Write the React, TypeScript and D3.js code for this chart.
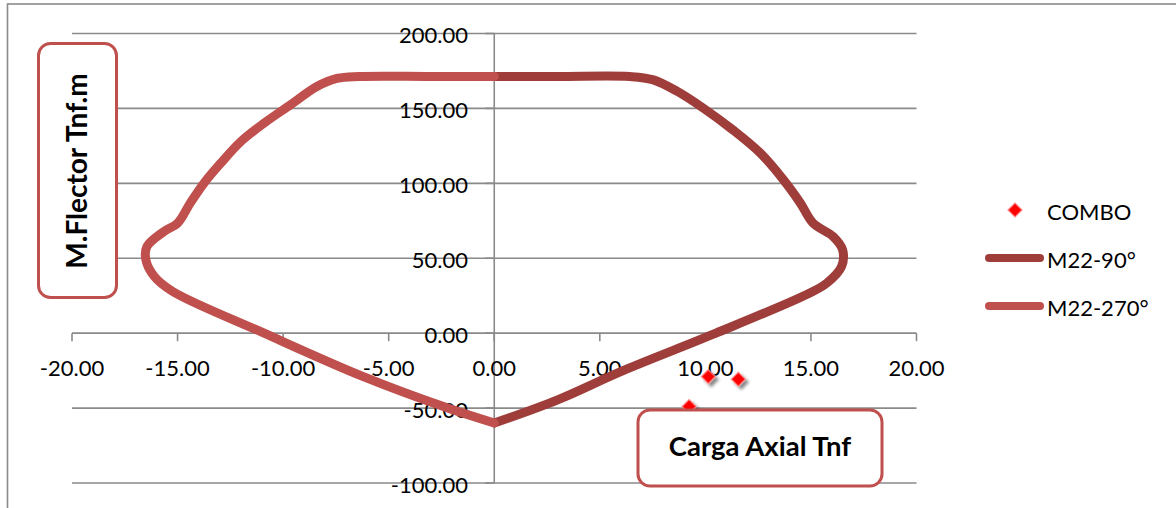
import React from 'react';
import * as d3 from 'd3';

// interaction diagram, values
const m22_90_x = [0, 3, 6.4, 7.5, 8.65, 9.9, 11.3, 12.6, 13.7, 14.5, 15.1, 16.05, 16.5, 16.45, 15.75, 14.9, 10.5, 6.1, 3.0, 0];
const m22_90_y = [171.3, 171.3, 171.3, 169.2, 161.5, 150.2, 135.7, 120.2, 102.3, 86.8, 73.4, 64.5, 55.6, 44.5, 33.4, 26.5, 0, -25, -44.5, -60];

const m22_270_x = [0, -3, -6.4, -7.45, -8.4, -9.65, -10.9, -12.0, -12.95, -13.75, -14.4, -15.0, -15.65, -16.45, -16.5, -16.1, -15.25, -10.9, -6.2, -2.2, 0];
const m22_270_y = [171.3, 171.3, 171.3, 170.0, 164.6, 152.4, 140.2, 127.9, 113.5, 100.1, 86.8, 73.4, 67.8, 57.8, 48.9, 37.8, 28, 0, -29, -50, -60];

const comboX = [10.14, 11.56, 9.23];
const comboY = [-29, -30.7, -49];

const xTicks = [-20, -15, -10, -5, 0, 5, 10, 15, 20];
const yTicks = [-100, -50, 0, 50, 100, 150, 200];

const legendLabels = ['COMBO', 'M22-90°', 'M22-270°'];

const COLOR_90 = '#9E3D3A';
const COLOR_270 = '#C0504D';
const GRID = '#8a8a8a';
const FONT = 'Lato, "DejaVu Sans", sans-serif';

const App = () => {
  const width = 1176;
  const height = 508;

  const x = d3.scaleLinear().domain([-20, 20]).range([72, 916.5]);
  const y = d3.scaleLinear().domain([-100, 200]).range([483, 33.5]);

  const line = d3
    .line<[number, number]>()
    .x((d) => x(d[0]))
    .y((d) => y(d[1]))
    .curve(d3.curveCatmullRom.alpha(0.5));

  const pts90 = m22_90_x.map((v, i) => [v, m22_90_y[i]] as [number, number]);
  const pts270 = m22_270_x.map((v, i) => [v, m22_270_y[i]] as [number, number]);

  const diamond = (cx: number, cy: number, r: number) =>
    `M${cx},${cy - r}L${cx + r},${cy}L${cx},${cy + r}L${cx - r},${cy}Z`;

  // excel style labels, plain hyphen for negatives
  const fmt = (v: number) => v.toFixed(2);

  return (
    <div style={{ position: 'absolute', left: 0, top: 0 }}>
      <svg width={width} height={height} style={{ display: 'block', background: '#fff' }}>
        <defs>
          <filter id="shadow" x="-50%" y="-50%" width="200%" height="200%">
            <feDropShadow dx="3" dy="3" stdDeviation="1.6" floodColor="#000" floodOpacity="0.45" />
          </filter>
        </defs>

        {/* chart border */}
        <rect x={7.5} y={4} width={1300} height={700} fill="#fff" stroke={GRID} strokeWidth={1.6} />

        {/* gridlines */}
        {yTicks.map((t) => (
          <line key={'g' + t} x1={x(-20)} x2={x(20)} y1={y(t)} y2={y(t)} stroke={GRID} strokeWidth={1.6} />
        ))}

        {/* y axis */}
        <line x1={x(0)} x2={x(0)} y1={y(200)} y2={y(-100)} stroke={GRID} strokeWidth={1.6} />
        {yTicks.map((t) => (
          <line key={'yt' + t} x1={x(0) - 9} x2={x(0)} y1={y(t)} y2={y(t)} stroke={GRID} strokeWidth={1.6} />
        ))}

        {/* x axis ticks */}
        {xTicks.map((t) => (
          <line key={'xt' + t} x1={x(t)} x2={x(t)} y1={y(0)} y2={y(0) + 8} stroke={GRID} strokeWidth={1.6} />
        ))}

        {/* tick labels */}
        {yTicks.map((t) => (
          <text key={'yl' + t} x={468} y={y(t) + 1} textAnchor="end" dominantBaseline="central" fontFamily={FONT} fontSize={22} fill="#000">
            {fmt(t)}
          </text>
        ))}
        {xTicks.map((t) => (
          <text key={'xl' + t} x={x(t)} y={376} textAnchor="middle" fontFamily={FONT} fontSize={22} fill="#000">
            {fmt(t)}
          </text>
        ))}

        {/* series */}
        <path d={line(pts90) || ''} fill="none" stroke={COLOR_90} strokeWidth={9} strokeLinecap="round" strokeLinejoin="round" />
        <path d={line(pts270) || ''} fill="none" stroke={COLOR_270} strokeWidth={9} strokeLinecap="round" strokeLinejoin="round" />

        {comboX.map((v, i) => (
          <path
            key={'c' + i}
            d={diamond(x(v), y(comboY[i]), 7)}
            fill="#FF0000"
            stroke="rgba(255,140,140,0.7)"
            strokeWidth={1.5}
            filter="url(#shadow)"
          />
        ))}

        {/* axis title boxes */}
        <rect x={38.5} y={43.5} width={78} height={254} rx={12} fill="#fff" stroke={COLOR_270} strokeWidth={3} />
        <text
          transform={`translate(${87}, ${171}) rotate(-90)`}
          textAnchor="middle"
          fontFamily={FONT}
          fontWeight="bold"
          fontSize={28}
          fill="#000"
        >
          M.Flector Tnf.m
        </text>

        <rect x={638} y={410} width={244} height={76} rx={12} fill="#fff" stroke={COLOR_270} strokeWidth={3} />
        <text x={760} y={456} textAnchor="middle" fontFamily={FONT} fontWeight="bold" fontSize={27.5} fill="#000">
          Carga Axial Tnf
        </text>

        {/* legend */}
        <path d={diamond(1015, 210, 7)} fill="#FF0000" stroke="rgba(255,140,140,0.7)" strokeWidth={1.5} />
        <line x1={989} x2={1040} y1={258} y2={258} stroke={COLOR_90} strokeWidth={8} strokeLinecap="round" />
        <line x1={989} x2={1040} y1={306} y2={306} stroke={COLOR_270} strokeWidth={8} strokeLinecap="round" />
        {legendLabels.map((l, i) => (
          <text key={l} x={1047} y={211 + i * 48} dominantBaseline="central" fontFamily={FONT} fontSize={22} fill="#000">
            {l}
          </text>
        ))}
      </svg>
    </div>
  );
};

export default App;
